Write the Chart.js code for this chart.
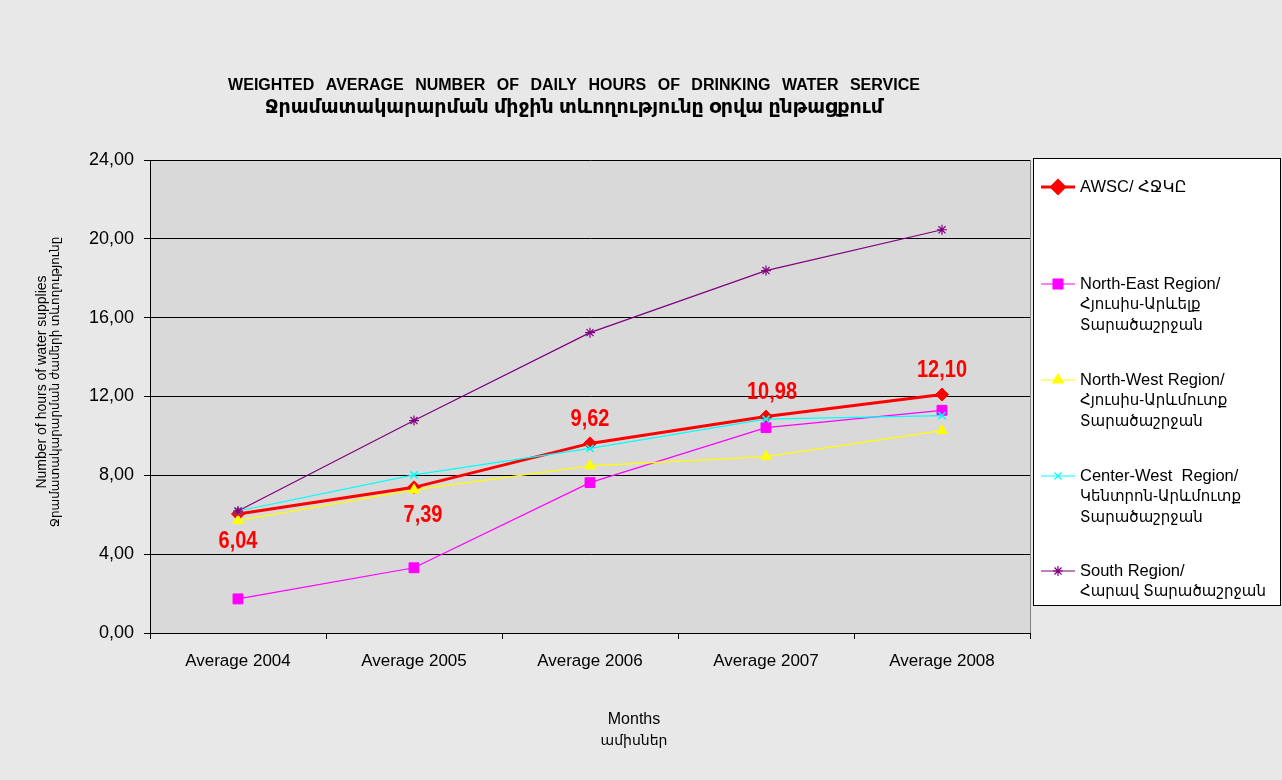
<!DOCTYPE html>
<html>
<head>
<meta charset="utf-8">
<script src="https://cdn.jsdelivr.net/npm/chart.js@4"></script>
<style>
    html, body { margin: 0; padding: 0; background: #e8e8e8; }
    #wrap { width: 1282px; height: 780px; }
</style>
</head>
<body>
<div id="wrap"><canvas id="waterChart" width="1282" height="780"></canvas></div>
<script>
const categories = ["Average 2004", "Average 2005", "Average 2006", "Average 2007", "Average 2008"];

const awsc = [6.04, 7.39, 9.62, 10.98, 12.10];
const northEast = [1.73, 3.31, 7.63, 10.42, 11.30];
const northWest = [5.70, 7.26, 8.48, 8.95, 10.27];
const centerWest = [6.19, 8.02, 9.37, 10.85, 11.03];
const south = [6.19, 10.78, 15.24, 18.39, 20.46];

const yTicks = [0, 4, 8, 12, 16, 20, 24];

const legendNames = [
    ["AWSC/ ՀՋԿԸ"],
    ["North-East Region/", "Հյուսիս-Արևելք", "Տարածաշրջան"],
    ["North-West Region/", "Հյուսիս-Արևմուտք", "Տարածաշրջան"],
    ["Center-West  Region/", "Կենտրոն-Արևմուտք", "Տարածաշրջան"],
    ["South Region/", "Հարավ Տարածաշրջան"]
];

// labels under the point for the first two years, above for the rest
const labelBelow = [true, true, false, false, false];

const FONT = "Arial, 'Liberation Sans', 'DejaVu Sans', sans-serif";

const decorations = {
    id: "decorations",
    beforeDraw(chart) {
        const { ctx, chartArea } = chart;
        ctx.save();
        ctx.fillStyle = "#d9d9d9";
        ctx.fillRect(chartArea.left, chartArea.top, chartArea.right - chartArea.left, chartArea.bottom - chartArea.top);
        ctx.restore();
    },
    afterDatasetsDraw(chart) {
        const { ctx } = chart;
        const meta = chart.getDatasetMeta(0);
        ctx.save();
        ctx.fillStyle = "#ff0000";
        ctx.font = "bold 23px " + FONT;
        ctx.textAlign = "center";
        ctx.textBaseline = "middle";
        meta.data.forEach((pt, i) => {
            const txt = awsc[i].toFixed(2).replace(".", ",");
            const dy = labelBelow[i] ? 28 : -24;
            const dx = i === 1 ? 9 : (i === 3 ? 6 : 0);
            ctx.save();
            ctx.translate(pt.x + dx, pt.y + dy);
            ctx.scale(0.87, 1);
            ctx.fillText(txt, 0, 0);
            ctx.restore();
        });
        ctx.restore();
    },
    afterDraw(chart) {
        const { ctx, chartArea } = chart;
        ctx.save();

        // right border of plot area
        ctx.strokeStyle = "#808080";
        ctx.lineWidth = 1;
        ctx.beginPath();
        ctx.moveTo(chartArea.right + 0.5, chartArea.top);
        ctx.lineTo(chartArea.right + 0.5, chartArea.bottom);
        ctx.stroke();

        // titles
        ctx.fillStyle = "#000";
        ctx.textAlign = "center";
        ctx.textBaseline = "middle";
        ctx.font = "bold 16px " + FONT;
        ctx.wordSpacing = "7px";
        ctx.fillText("WEIGHTED AVERAGE NUMBER OF DAILY HOURS OF DRINKING WATER SERVICE", 574, 86);
        ctx.wordSpacing = "0px";
        ctx.font = "bold 19px " + FONT;
        ctx.fillText("Ջրամատակարարման միջին տևողությունը օրվա ընթացքում", 574, 108);

        ctx.font = "16px " + FONT;
        ctx.fillText("Months", 634, 720);
        ctx.font = "14px " + FONT;
        ctx.fillText("ամիսներ", 634, 741);

        ctx.save();
        ctx.translate(42, 382);
        ctx.rotate(-Math.PI / 2);
        ctx.font = "14px " + FONT;
        ctx.fillText("Number of hours of water supplies", 0, 0);
        ctx.font = "12px " + FONT;
        ctx.fillText("Ջրամատակարարման ժամերի տևողությունը", 0, 14);
        ctx.restore();

        // legend box
        ctx.fillStyle = "#ffffff";
        ctx.fillRect(1033, 158, 248, 448);
        ctx.strokeStyle = "#000";
        ctx.strokeRect(1033.5, 158.5, 247, 447);

        const rows = [187, 284, 380, 476, 571];
        chart.data.datasets.forEach((ds, i) => {
            const y = rows[i];
            ctx.strokeStyle = ds.borderColor;
            ctx.lineWidth = ds.borderWidth;
            ctx.beginPath();
            ctx.moveTo(1041, y);
            ctx.lineTo(1075, y);
            ctx.stroke();
            ctx.fillStyle = ds.pointBackgroundColor;
            ctx.strokeStyle = ds.pointBorderColor;
            Chart.helpers.drawPoint(ctx, {
                pointStyle: ds.pointStyle,
                radius: ds.pointRadius,
                rotation: 0,
                borderWidth: ds.pointBorderWidth
            }, 1058, y);
            ctx.fillStyle = "#000";
            ctx.textAlign = "left";
            legendNames[i].forEach((line, k) => {
                ctx.font = (k === 0 ? "16.5px " : "15px ") + FONT;
                ctx.fillText(line, 1080, y + k * 21);
            });
        });

        ctx.restore();
    }
};

function series(label, data, color, width, style, radius, order, pointBorder) {
    return {
        label: label,
        data: data,
        borderColor: color,
        borderWidth: width,
        pointStyle: style,
        pointRadius: radius,
        pointHoverRadius: radius,
        pointBackgroundColor: color,
        pointBorderColor: color,
        pointBorderWidth: pointBorder,
        tension: 0,
        fill: false,
        order: order
    };
}

new Chart(document.getElementById("waterChart").getContext("2d"), {
    type: "line",
    data: {
        labels: categories,
        datasets: [
            series("AWSC", awsc, "#ff0000", 3, "rectRot", 6.5, 5, 1),
            series("North-East", northEast, "#ff00ff", 1.2, "rect", 7, 4, 1),
            series("North-West", northWest, "#ffff00", 1.2, "triangle", 6, 3, 1),
            series("Center-West", centerWest, "#00ffff", 1.2, "crossRot", 5, 2, 1.5),
            series("South", south, "#800080", 1.2, "star", 5, 1, 1.2)
        ]
    },
    options: {
        responsive: false,
        animation: false,
        devicePixelRatio: 1,
        layout: {
            padding: { left: 0, top: 160, right: 252, bottom: 107 }
        },
        plugins: {
            legend: { display: false },
            title: { display: false },
            tooltip: { enabled: false }
        },
        scales: {
            x: {
                offset: true,
                grid: {
                    offset: true,
                    drawOnChartArea: false,
                    color: "#000",
                    tickLength: 6
                },
                border: { color: "#000", width: 1 },
                ticks: {
                    color: "#000",
                    padding: 12,
                    font: { family: FONT, size: 17 }
                },
                afterFit(scale) { scale.height = 40; }
            },
            y: {
                min: 0,
                max: 24,
                afterBuildTicks(scale) {
                    scale.ticks = yTicks.map(v => ({ value: v }));
                },
                grid: {
                    color: "#000",
                    tickLength: 6,
                    lineWidth: 1
                },
                border: { color: "#000", width: 1 },
                ticks: {
                    color: "#000",
                    padding: 10,
                    font: { family: FONT, size: 18 },
                    callback: v => v.toFixed(2).replace(".", ",")
                },
                afterFit(scale) { scale.width = 150; }
            }
        }
    },
    plugins: [decorations]
});
</script>
</body>
</html>
